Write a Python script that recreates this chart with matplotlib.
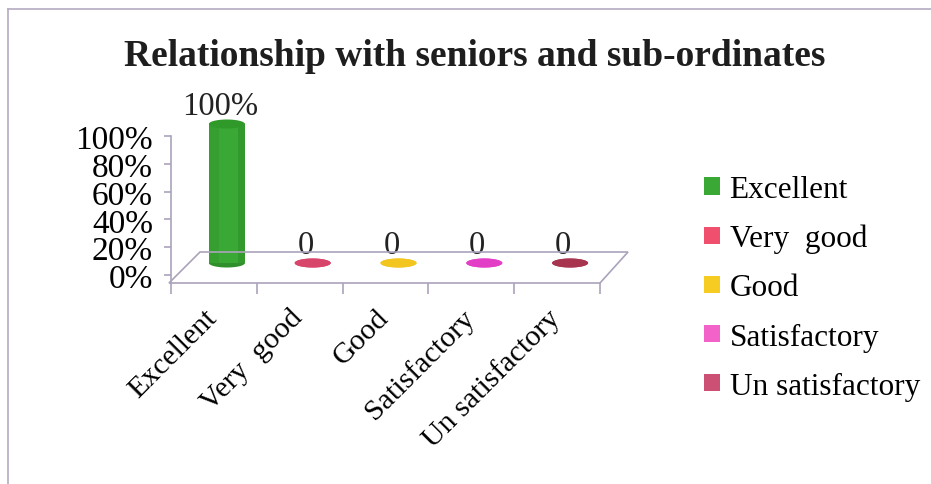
import matplotlib
matplotlib.use("Agg")
import matplotlib.pyplot as plt
import matplotlib.transforms as mtransforms
from matplotlib.patches import Patch, Polygon
from matplotlib.lines import Line2D
from matplotlib.path import Path
import numpy as np

categories = ["Excellent", "Very  good", "Good", "Satisfactory", "Un satisfactory"]
values = [1.00, 0.0, 0.0, 0.0, 0.0]
value_labels = ["100%", "0", "0", "0", "0"]
yticks = [0.0, 0.2, 0.4, 0.6, 0.8, 1.0]
ytick_labels = ["0%", "20%", "40%", "60%", "80%", "100%"]
title = "Relationship with seniors and sub-ordinates"

bar_colors = ["#3aa834", "#d8456a", "#f2c51f", "#e23fc6", "#a8354f"]
legend_colors = ["#3aa834", "#f0506e", "#f7cc22", "#f262c8", "#cc5073"]

W, H = 931, 485
DPI = 100
plt.rcParams["font.family"] = ["Liberation Serif", "DejaVu Serif"]

fig = plt.figure(figsize=(W / DPI, H / DPI), dpi=DPI)
fig.patch.set_facecolor("white")

def fx(x):
    return x / W

def fy(y):
    return 1 - y / H

# axes: x floor front from 171 to 600 px; y: 0 at 276 px, 1 at 137 px
y0_px, y1_px = 276.0, 137.0
bottom_px = 284.0
ppu = y0_px - y1_px
ymin = -(bottom_px - y0_px) / ppu
ax = fig.add_axes([fx(171), fy(bottom_px), fx(600) - fx(171), (bottom_px - y1_px) / H])
ax.set_xlim(-0.5, 4.5)
ax.set_ylim(ymin, 1.0)
ax.patch.set_alpha(0)
for s in ["top", "right", "bottom"]:
    ax.spines[s].set_visible(False)
grid_col = "#aba3bb"
ax.spines["left"].set_color(grid_col)
ax.spines["left"].set_linewidth(1.2)

ax.set_yticks(yticks)
ax.set_yticklabels(ytick_labels, fontsize=24)
ax.tick_params(axis="y", length=5, color=grid_col, width=1.2, pad=8)
for lab in ax.get_yticklabels():
    lab.set_verticalalignment("center")
    lab.set_transform(lab.get_transform() + mtransforms.ScaledTranslation(0, -4 / DPI, fig.dpi_scale_trans))

x = np.arange(len(categories))
ax.set_xticks(x)
ax.set_xticklabels(categories, fontsize=21.5, rotation=45, ha="right", va="center",
                   rotation_mode="anchor")
ax.tick_params(axis="x", length=0, pad=22)
for lab in ax.get_xticklabels():
    lab.set_transform(lab.get_transform() + mtransforms.ScaledTranslation(-1 / DPI, 0, fig.dpi_scale_trans))
# category boundary ticks
ax.set_xticks(np.arange(-0.5, 5.0, 1.0), minor=True)
ax.tick_params(axis="x", which="minor", length=8, color=grid_col, width=1.2)

# floor (perspective)
floor = Polygon([(fx(169), fy(284)), (fx(600), fy(284)), (fx(628), fy(253)), (fx(200), fy(253))],
                closed=True, transform=fig.transFigure, facecolor="none",
                edgecolor=grid_col, linewidth=1.2, zorder=1)
fig.patches.append(floor)

# depth offset for the bars
off = mtransforms.ScaledTranslation(13 / DPI, 12 / DPI, fig.dpi_scale_trans)
tr = ax.transData + off

bw = 0.42
bars = ax.bar(x, values, width=bw, color=bar_colors, edgecolor="none", zorder=3)
for b in bars:
    b.set_transform(tr)
    b.set_clip_on(False)

# subtle cylinder shading: darker edge strips
shade = ax.bar(x - bw * 0.36, values, width=bw * 0.28, color="#2e9129", edgecolor="none", zorder=3.1)
for b in shade:
    b.set_transform(tr)
    b.set_clip_on(False)
    b.set_alpha(0.35)
shade2 = ax.bar(x + bw * 0.40, values, width=bw * 0.20, color="#2a8a25", edgecolor="none", zorder=3.1)
for b in shade2:
    b.set_transform(tr)
    b.set_clip_on(False)
    b.set_alpha(0.45)

# ellipse marker for cylinder caps
t = np.linspace(0, 2 * np.pi, 60)
verts = np.column_stack([np.cos(t), 0.25 * np.sin(t)])
ell = Path(verts, closed=True)
cap_size = (bw * (429 / 5) * 72 / DPI) ** 2
darker = ["#2f8f2a", "#d8456a", "#f2c51f", "#e23fc6", "#a8354f"]
ax.scatter(x, np.zeros(len(x)), marker=ell, s=cap_size, c=darker, edgecolors="none",
           zorder=2.5, transform=tr, clip_on=False)
top_cols = ["#2f9a2a" if v > 0 else c for v, c in zip(values, bar_colors)]
ax.scatter(x, values, marker=ell, s=cap_size, c=top_cols, edgecolors="none", zorder=4,
           transform=tr, clip_on=False)

for xi, v, lab in zip(x, values, value_labels):
    ax.annotate(lab, (xi, v), xycoords=tr, xytext=(-5, 13), textcoords="offset points",
                ha="center", va="center", fontsize=23.5, color="#222222", zorder=5,
                annotation_clip=False)

fig.text(fx(475), fy(56), title, ha="center", va="center", fontsize=27,
         fontweight="bold", color="#1e1e1e")

handles = [Patch(facecolor=c, edgecolor="none") for c in legend_colors]
leg = fig.legend(handles, categories, loc="upper left",
                 bbox_to_anchor=(fx(704), fy(176)), frameon=False, fontsize=22.5,
                 handlelength=0.5, handleheight=0.5, handletextpad=0.32,
                 labelspacing=0.64, borderpad=0, borderaxespad=0)

# outer frame (left and top edges)
fig.add_artist(Line2D([fx(8), fx(8)], [fy(10), fy(485)], transform=fig.transFigure,
                      color="#b4abc2", linewidth=1.2))
fig.add_artist(Line2D([fx(8), fx(931)], [fy(10), fy(10)], transform=fig.transFigure,
                      color="#b4abc2", linewidth=1.2))

fig.savefig("out.png", dpi=DPI, facecolor="white")
